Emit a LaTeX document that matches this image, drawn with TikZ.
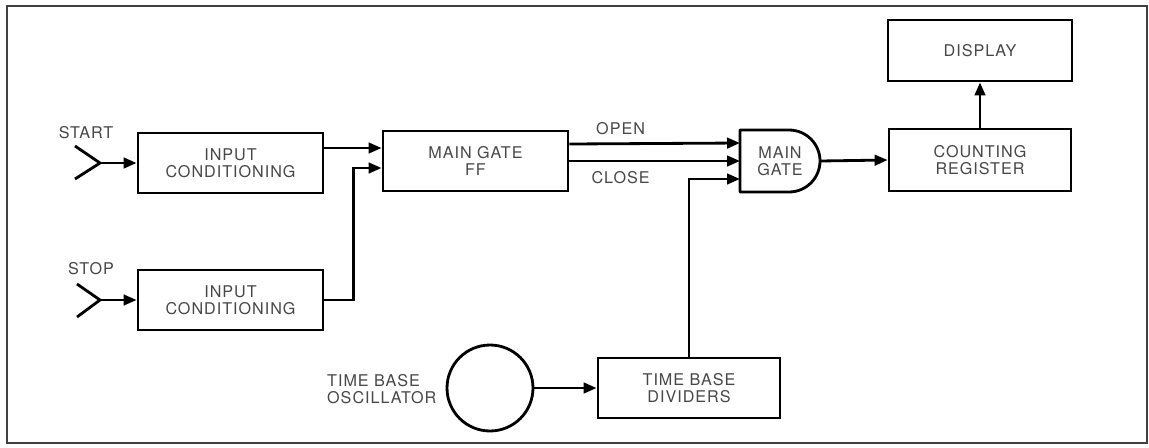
\documentclass[tikz,border=0pt]{standalone}
\usepackage{fontspec}
\setmainfont{TeX Gyre Heros}[LetterSpace=6]
\usetikzlibrary{arrows.meta,calc}
\begin{document}
\begin{tikzpicture}[x=0.02cm, y=-0.02cm,
    block/.style={draw, rectangle, line width=1.6pt, text=black!72, align=center,
        minimum height=1.2cm, font=\fontsize{9.2}{9.8}\selectfont},
    lbl/.style={text=black!72, align=left, font=\fontsize{9.2}{9.8}\selectfont},
    arr/.style={line width=1.6pt, -{Triangle[length=0.26cm, width=0.21cm]}},
    wire/.style={line width=1.6pt}]
        \useasboundingbox (0,0) rectangle (1149,447);
        % Frame
        \draw[line width=1pt, black!75] (7,6) rectangle (1147,443);

        % Inputs
        \node[block, minimum width=3.7cm] (in1) at (230.5,163) {INPUT\\CONDITIONING};
        \node[block, minimum width=3.7cm] (in2) at (230.5,300) {INPUT\\CONDITIONING};
        \node[lbl] (start) at (86,133) {START};
        \node[lbl] (stop) at (91,269) {STOP};
        \coordinate (startj) at (100,163);
        \coordinate (stopj) at (100,300);
        \draw[wire] (75,146) -- (startj) -- (75,179);
        \draw[wire] (77,284) -- (stopj) -- (77,317);

        % Gate path
        \node[block, minimum width=3.7cm] (ff) at (475.5,161) {MAIN GATE\\FF};
        \node[block, draw=none, outer sep=0pt, minimum width=1.6cm, minimum height=1.24cm] (gate) at (780,161) {MAIN\\GATE};
        \draw[wire, line join=round] (gate.north west) -- ++(49,0) arc (90:-90:0.62cm) -- ++(-49,0) -- cycle;
        \node[block, minimum width=3.64cm, minimum height=1.24cm] (count) at (980,160) {COUNTING\\REGISTER};
        \node[block, minimum width=3.68cm, minimum height=1.22cm] (disp) at (980,50.5) {DISPLAY};

        % Time base
        \node[draw, circle, line width=1.6pt, minimum size=1.72cm] (osc) at (490,388) {};
        \node[lbl, anchor=west] (osclbl) at (321,389) {TIME BASE\\OSCILLATOR};
        \node[block, minimum width=3.64cm] (div) at (689,388) {TIME BASE\\DIVIDERS};

        % Arrows
        \draw[arr] (startj) -- (in1.west);
        \draw[arr] (stopj) -- (in2.west);
        \draw[arr] ([yshift=0.3cm]in1.east) -- ([yshift=0.3cm]in1.east -| ff.west);
        \draw[arr] (in2.east) -- ++(29,0) |- ([yshift=-0.14cm]ff.west);
        \draw[arr] ([yshift=0.34cm]ff.east) -- ([yshift=0.36cm]gate.west)
            node[lbl, pos=0.3, above=1pt] (open) {OPEN};
        \draw[arr] (ff.east) -- (gate.west)
            node[lbl, pos=0.3, below=2pt] (close) {CLOSE};
        \draw[arr] (div.north) |- ([yshift=-0.36cm]gate.west);
        \draw[arr] (gate.east) -- (count.west);
        \draw[arr] (count.north) -- (disp.south);
        \draw[arr] (osc.east) -- (div.west);
    \end{tikzpicture}
\end{document}
